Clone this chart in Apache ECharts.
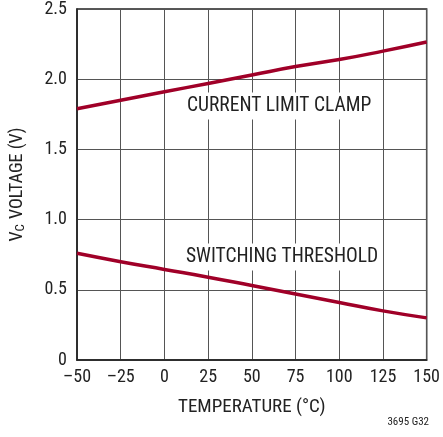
<!DOCTYPE html>
<html><head><meta charset="utf-8">
<script src="https://cdn.jsdelivr.net/npm/echarts@6/dist/echarts.min.js"></script>
<style>html,body{margin:0;padding:0;background:#fff}#c{width:443px;height:437px}</style>
</head><body><div id="c"></div>
<script>
const temps = [-50, -25, 0, 25, 50, 75, 100, 125, 150];
const clampV = [1.79, 1.85, 1.91, 1.97, 2.03, 2.09, 2.14, 2.20, 2.265];
const thresholdV = [0.76, 0.70, 0.645, 0.59, 0.53, 0.47, 0.41, 0.35, 0.30];
const xTicks = [-50, -25, 0, 25, 50, 75, 100, 125, 150];
const yTicks = [0, 0.5, 1.0, 1.5, 2.0, 2.5];
const FONT = '"Roboto Condensed", "Liberation Sans Narrow", "Liberation Sans", Arial, sans-serif';
const RED = '#a00028';
const INK = '#222';
const chart = echarts.init(document.getElementById('c'));
chart.setOption({
  animation: false,
  grid: {left: 77, right: 14, top: 8, bottom: 77, show: true, borderColor: '#222', borderWidth: 1.5},
  xAxis: {
    type: 'value', min: -50, max: 150, interval: 25,
    name: 'TEMPERATURE (°C)', nameLocation: 'middle', nameGap: 38,
    nameTextStyle: {fontFamily: FONT, fontSize: 19, color: INK},
    axisLine: {show: true, onZero: false, lineStyle: {color: '#222', width: 1.5}},
    axisTick: {show: false},
    axisLabel: {fontFamily: FONT, fontSize: 18, color: INK, margin: 8,
      formatter: v => String(v).replace('-', '\u2013')},
    splitLine: {show: true, lineStyle: {color: '#555', width: 1}}
  },
  yAxis: {
    type: 'value', min: 0, max: 2.5, interval: 0.5,
    name: '{v|V}{s|C}{v| VOLTAGE (V)}', nameLocation: 'middle', nameGap: 50, nameRotate: 90,
    nameTextStyle: {rich: {
      v: {fontFamily: FONT, fontSize: 18, color: INK},
      s: {fontFamily: FONT, fontSize: 13, color: INK, verticalAlign: 'bottom', padding: [7, 1, 0, 0]}
    }},
    axisLine: {show: true, onZero: false, lineStyle: {color: '#222', width: 1.5}},
    axisTick: {show: false},
    axisLabel: {fontFamily: FONT, fontSize: 18, color: INK, margin: 10,
      formatter: v => v === 0 ? '0' : v.toFixed(1)},
    splitLine: {show: true, lineStyle: {color: '#555', width: 1}}
  },
  series: [
    {type: 'line', data: temps.map((t, i) => [t, clampV[i]]), smooth: true, symbol: 'none',
     lineStyle: {color: RED, width: 3.5}},
    {type: 'line', data: temps.map((t, i) => [t, thresholdV[i]]), smooth: true, symbol: 'none',
     lineStyle: {color: RED, width: 3.5}}
  ],
  graphic: [
    {type: 'text', x: 185, y: 106, z: 100, style: {text: 'CURRENT LIMIT CLAMP', font: '19.5px ' + FONT, fill: INK,
      textVerticalAlign: 'middle', verticalAlign: 'middle', backgroundColor: '#fff', padding: [4, 2, 3, 2]}},
    {type: 'text', x: 184, y: 257, z: 100, style: {text: 'SWITCHING THRESHOLD', font: '19.5px ' + FONT, fill: INK,
      textVerticalAlign: 'middle', verticalAlign: 'middle', backgroundColor: '#fff', padding: [4, 2, 3, 2]}},
    {type: 'text', right: 14, top: 417, style: {text: '3695 G32', font: '11px ' + FONT, fill: INK}}
  ]
});
</script></body></html>
